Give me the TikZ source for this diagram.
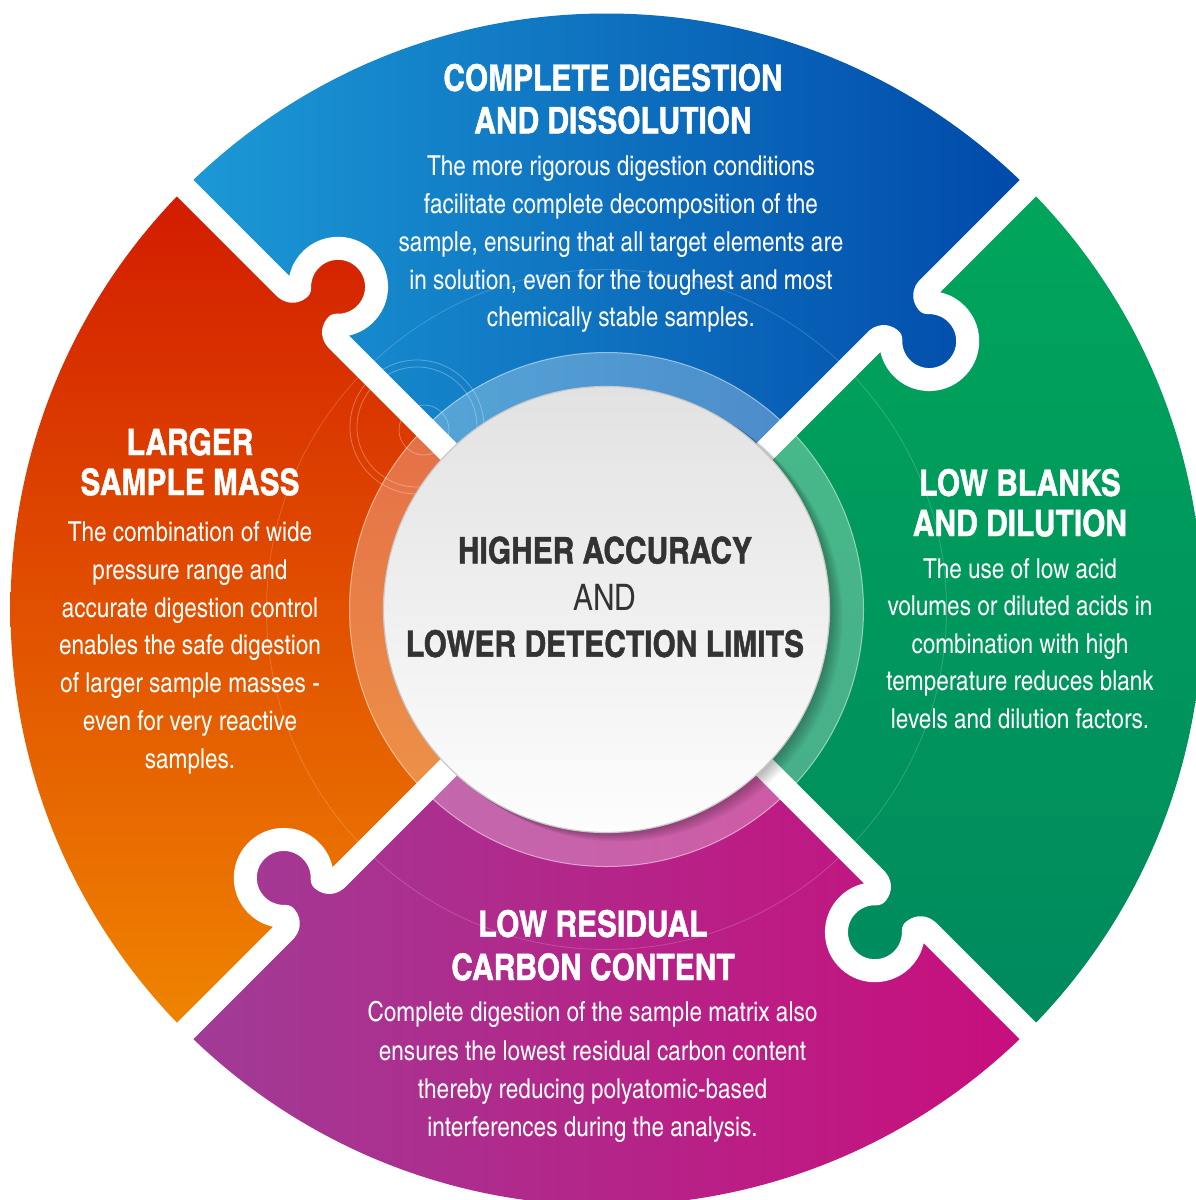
\documentclass[tikz,border=0pt]{standalone}
\usepackage{fontspec}
\setmainfont{texgyreheroscn}[Extension=.otf, UprightFont=*-regular, BoldFont=*-bold, ItalicFont=*-italic, BoldItalicFont=*-bolditalic, BoldFeatures={FakeBold=1.2}]
\usetikzlibrary{calc}
\definecolor{blueL}{HTML}{1C9AD6}
\definecolor{blueR}{HTML}{0049A9}
\definecolor{redT}{HTML}{D21A00}
\definecolor{redB}{HTML}{F08600}
\definecolor{greenT}{HTML}{00A65B}
\definecolor{greenB}{HTML}{00895E}
\definecolor{purpL}{HTML}{A03C96}
\definecolor{purpR}{HTML}{C80E7C}
\definecolor{diskT}{HTML}{E2E2E2}
\definecolor{diskB}{HTML}{FDFDFD}
\definecolor{diskEdge}{HTML}{C9C9C9}
\definecolor{hubText}{HTML}{333333}
\begin{document}
\begin{tikzpicture}[x=1pt, y=-1pt,
  gapline/.style={draw=white, line width=23pt, line join=round},
  topshade/.style={left color=blueL, right color=blueR},
  leftshade/.style={top color=redT, bottom color=redB},
  rightshade/.style={top color=greenT, bottom color=greenB},
  botshade/.style={left color=purpL, right color=purpR},
  ttl/.style={text=white, font=\bfseries\fontsize{36.5}{42.6}\selectfont, align=center, anchor=base, inner sep=0pt},
  bodytext/.style={text=white, font=\fontsize{27.5}{37.7}\selectfont, align=center, anchor=base, inner sep=0pt},
  deco/.style={draw=white, line width=0.8pt, opacity=0.3}]
\useasboundingbox (0,0) rectangle (1196,1200);
\clip (0,0) rectangle (1196,1200);
\fill[white] (0,0) rectangle (1196,1200);
\coordinate (C) at (606.5,609.5);
% ---------- pieces ----------
\begin{scope}
  \clip (C) circle[radius=596];
  \begin{scope}
    \clip (C) -- ++(-1000,-1000) -- ++(2000,0) -- cycle;
    \shade[topshade] (180,0) rectangle (1030,620);
  \end{scope}
  \begin{scope}
    \clip (C) -- ++(-1000,-1000) -- ++(0,2000) -- cycle;
    \shade[leftshade] (0,180) rectangle (620,1040);
  \end{scope}
  \begin{scope}
    \clip (C) -- ++(1000,-1000) -- ++(0,2000) -- cycle;
    \shade[rightshade] (600,180) rectangle (1200,1040);
  \end{scope}
  \begin{scope}
    \clip (C) -- ++(-1000,1000) -- ++(2000,0) -- cycle;
    \shade[botshade] (180,600) rectangle (1030,1210);
  \end{scope}
  % knobs (owner colour)
  \begin{scope}
    \clip ($(C)+(225:418)+(315:38.5)$) circle[radius=38.5] ($(C)+(225:418)$) circle[radius=26];
    \shade[leftshade] (0,180) rectangle (620,1040);
  \end{scope}
  \begin{scope}
    \clip ($(C)+(315:418)+(45:38.5)$) circle[radius=38.5] ($(C)+(315:418)$) circle[radius=26];
    \shade[topshade] (180,0) rectangle (1030,620);
  \end{scope}
  \begin{scope}
    \clip ($(C)+(45:418)+(135:38.5)$) circle[radius=38.5] ($(C)+(45:418)$) circle[radius=26];
    \shade[rightshade] (600,180) rectangle (1200,1040);
  \end{scope}
  \begin{scope}
    \clip ($(C)+(135:418)+(225:38.5)$) circle[radius=38.5] ($(C)+(135:418)$) circle[radius=26];
    \shade[botshade] (180,600) rectangle (1030,1210);
  \end{scope}
  % faint decorative circles
  \draw[deco] (417,427) circle[radius=67];
  \draw[deco] (417,427) circle[radius=60];
  \draw[deco] (424,430) circle[radius=25];
  \draw[deco, opacity=0.18] (C) circle[radius=340];
  % translucent ring
  \fill[white, opacity=0.28, even odd rule] (C) circle[radius=257] (C) circle[radius=223];
  \draw[white, opacity=0.5, line width=1pt] (C) circle[radius=257];
\end{scope}
% ---------- white puzzle gaps ----------
\foreach \a in {45,135,225,315} {
  \begin{scope}[shift={(C)}, rotate=-\a]
    \draw[gapline] (0,0) -- (382,0)
      arc[start angle=-90, end angle=0, radius=10]
      arc[start angle=227.5, end angle=-47.5, radius=38.5]
      arc[start angle=180, end angle=270, radius=10]
      -- (700,0);
  \end{scope}
}
% ---------- hub ----------
\foreach \i in {1,...,8}
  \fill[black, opacity=0.035] ($(C)+(\i*1.5,\i*1.0)$) circle[radius=224];
\node[circle, minimum size=446pt, inner sep=0pt, draw=diskEdge, line width=1.2pt,
      top color=diskT, bottom color=diskB] (hub) at (C) {};
\node[text=hubText, font=\fontsize{36.5}{46.7}\selectfont, align=center, anchor=base, inner sep=0pt]
  (hubtext) at (605,656.7) {{\bfseries HIGHER ACCURACY}\\AND\\{\bfseries LOWER DETECTION LIMITS}};
% ---------- texts ----------
\node[ttl] (t1) at (613,133.3) {COMPLETE DIGESTION\\AND DISSOLUTION};
\node[bodytext] (b1) at (621,326.7) {The more rigorous digestion conditions\\facilitate complete decomposition of the\\sample, ensuring that all target elements are\\in solution, even for the toughest and most\\chemically stable samples.};
\node[ttl, font=\bfseries\fontsize{36.5}{40}\selectfont] (t2) at (190,495) {LARGER\\SAMPLE MASS};
\node[bodytext] (b2) at (190,768) {The combination of wide\\pressure range and\\accurate digestion control\\enables the safe digestion\\of larger sample masses -\\even for very reactive\\samples.};
\node[ttl, font=\bfseries\fontsize{36.5}{40.3}\selectfont] (t3) at (1020,536) {LOW BLANKS\\AND DILUTION};
\node[bodytext, font=\fontsize{27.5}{37.5}\selectfont] (b3) at (1020,728.3) {The use of low acid\\volumes or diluted acids in\\combination with high\\temperature reduces blank\\levels and dilution factors.};
\node[ttl, font=\bfseries\fontsize{36.5}{43.3}\selectfont] (t4) at (593,980) {LOW RESIDUAL\\CARBON CONTENT};
\node[bodytext, font=\fontsize{27.5}{38.3}\selectfont] (b4) at (592.5,1136.7) {Complete digestion of the sample matrix also\\ensures the lowest residual carbon content\\thereby reducing polyatomic-based\\interferences during the analysis.};
\end{tikzpicture}
\end{document}
